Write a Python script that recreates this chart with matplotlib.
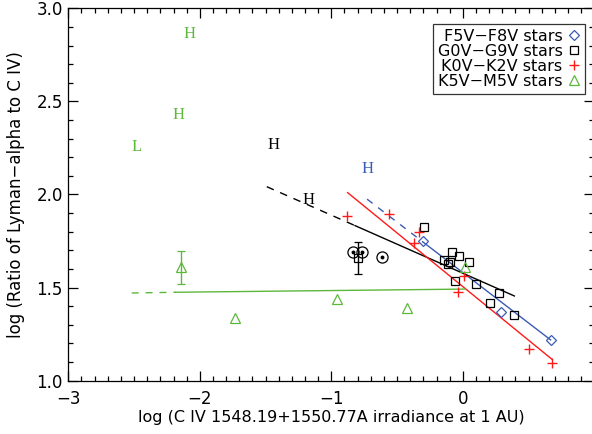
import matplotlib
matplotlib.use("Agg")
import matplotlib.pyplot as plt
from matplotlib.lines import Line2D
from matplotlib.ticker import MultipleLocator, FixedLocator

# colours for the four spectral groups
c_f = "#3a5bb4"
c_g = "black"
c_k = "#ff1a1a"
c_m = "#5cb83c"

# F5V-F8V stars (diamonds)
f_x = [-0.305, 0.290, 0.668]
f_y = [1.749, 1.371, 1.219]
# G0V-G9V stars (squares)
g_x = [-0.293, -0.080, -0.027, -0.141, -0.097, 0.049, -0.115, -0.057, 0.098, 0.275, 0.209, 0.392]
g_y = [1.827, 1.690, 1.670, 1.647, 1.636, 1.637, 1.627, 1.537, 1.521, 1.469, 1.416, 1.351]
# K0V-K2V stars (plus)
k_x = [-0.878, -0.561, -0.335, -0.371, 0.011, -0.036, 0.500, 0.678]
k_y = [1.885, 1.894, 1.800, 1.738, 1.562, 1.478, 1.169, 1.093]
# K5V-M5V stars (triangles)
m_x = [0.017, -0.959, -0.424, -1.730]
m_y = [1.612, 1.440, 1.388, 1.335]
# triangle with error bar
m_err_x = [-2.143]
m_err_y = [1.610]
m_err = [0.088]

# sun: square with error bar plus sun symbols
sun_x = [-0.795]
sun_y = [1.660]
sun_err = [0.087]
sunsym_x = [-0.833, -0.769, -0.617]
sunsym_y = [1.693, 1.693, 1.663]

# fit lines (dashed = extrapolated part)
f_dash_x, f_dash_y = [-0.728, -0.305], [1.975, 1.746]
f_fit_x, f_fit_y = [-0.305, 0.668], [1.746, 1.219]
g_dash_x, g_dash_y = [-1.491, -0.820], [2.042, 1.833]
g_fit_x, g_fit_y = [-0.820, 0.392], [1.833, 1.455]
k_fit_x, k_fit_y = [-0.876, 0.678], [2.010, 1.115]
m_dash_x, m_dash_y = [-2.518, -2.180], [1.471, 1.475]
m_fit_x, m_fit_y = [-2.180, 0.017], [1.475, 1.492]

# H / L letters
lab_text = ["H", "H", "L", "H", "H", "H"]
lab_x = [-2.075, -2.161, -2.480, -1.441, -1.175, -0.723]
lab_y = [2.861, 2.427, 2.253, 2.266, 1.970, 2.135]
lab_col = [c_m, c_m, c_m, c_g, c_g, c_f]

legend_labels = ["F5V\u2212F8V stars", "G0V\u2212G9V stars", "K0V\u2212K2V stars", "K5V\u2212M5V stars"]

fig = plt.figure(figsize=(5.92, 4.34), dpi=100)
ax = fig.add_axes([0.1154, 0.1228, 0.8885, 0.8581])

lw = 1.0
ax.plot(f_dash_x, f_dash_y, color=c_f, lw=lw, dashes=(5, 5))
ax.plot(f_fit_x, f_fit_y, color=c_f, lw=lw)
ax.plot(g_dash_x, g_dash_y, color=c_g, lw=lw, dashes=(5.5, 5))
ax.plot(g_fit_x, g_fit_y, color=c_g, lw=lw)
ax.plot(k_fit_x, k_fit_y, color=c_k, lw=lw)
ax.plot(m_dash_x, m_dash_y, color=c_m, lw=lw, dashes=(5, 5))
ax.plot(m_fit_x, m_fit_y, color=c_m, lw=lw)

ax.plot(f_x, f_y, ls="none", marker="D", ms=4.8, mfc="none", mec=c_f, mew=0.9)
ax.plot(g_x, g_y, ls="none", marker="s", ms=6.3, mfc="none", mec=c_g, mew=0.9)
ax.plot(k_x, k_y, ls="none", marker="+", ms=7, mec=c_k, mew=1.0)
ax.plot(m_x, m_y, ls="none", marker="^", ms=7, mfc="none", mec=c_m, mew=0.9)
ax.errorbar(m_err_x, m_err_y, yerr=m_err, fmt="^", ms=7, mfc="none", mec=c_m, mew=0.9,
            ecolor=c_m, elinewidth=1.0, capsize=3, capthick=1.0)

ax.errorbar(sun_x, sun_y, yerr=sun_err, fmt="s", ms=6.3, mfc="none", mec="black", mew=0.9,
            ecolor="black", elinewidth=1.0, capsize=3, capthick=1.0)
ax.plot(sunsym_x, sunsym_y, ls="none", marker="o", ms=8, mfc="none", mec="black", mew=0.9)
ax.plot(sunsym_x, sunsym_y, ls="none", marker="o", ms=1.8, color="black")

for t, x, y, c in zip(lab_text, lab_x, lab_y, lab_col):
    ax.text(x, y, t, color=c, fontsize=12, family="Liberation Serif", ha="center", va="center")

ax.set_xlim(-3, 1)
ax.set_ylim(1.0, 3.0)
ax.xaxis.set_major_locator(FixedLocator([-3, -2, -1, 0]))
ax.xaxis.set_minor_locator(MultipleLocator(0.1))
ax.yaxis.set_major_locator(MultipleLocator(0.5))
ax.yaxis.set_minor_locator(MultipleLocator(0.1))
ax.yaxis.set_major_formatter(matplotlib.ticker.FormatStrFormatter("%.1f"))
ax.tick_params(which="both", direction="in", top=True, right=True, width=0.9, labelsize=12)
ax.tick_params(which="major", length=7)
ax.tick_params(which="minor", length=3.5)
ax.tick_params(axis="x", pad=7)
ax.tick_params(axis="y", pad=4)
for s in ax.spines.values():
    s.set_linewidth(0.9)

ax.set_xlabel("log (C IV 1548.19+1550.77A irradiance at 1 AU)", fontsize=11.5, labelpad=1)
ax.set_ylabel("log (Ratio of Lyman\u2212alpha to C IV)", fontsize=12, labelpad=8)

handles = [
    Line2D([], [], ls="none", marker="D", ms=4.8, mfc="none", mec=c_f, mew=0.9),
    Line2D([], [], ls="none", marker="s", ms=6.3, mfc="none", mec=c_g, mew=0.9),
    Line2D([], [], ls="none", marker="+", ms=7, mec=c_k, mew=1.0),
    Line2D([], [], ls="none", marker="^", ms=7, mfc="none", mec=c_m, mew=0.9),
]
leg = ax.legend(handles, legend_labels, loc="upper right", bbox_to_anchor=(0.982, 0.958),
                markerfirst=False, fontsize=11.5, frameon=True, fancybox=False,
                edgecolor="black", handlelength=0.8, handletextpad=0.3,
                labelspacing=0.0, borderpad=0.3, borderaxespad=0)
leg.get_frame().set_linewidth(0.9)
for t in leg.get_texts():
    t.set_ha("right")

fig.savefig("out.png", dpi=100)
